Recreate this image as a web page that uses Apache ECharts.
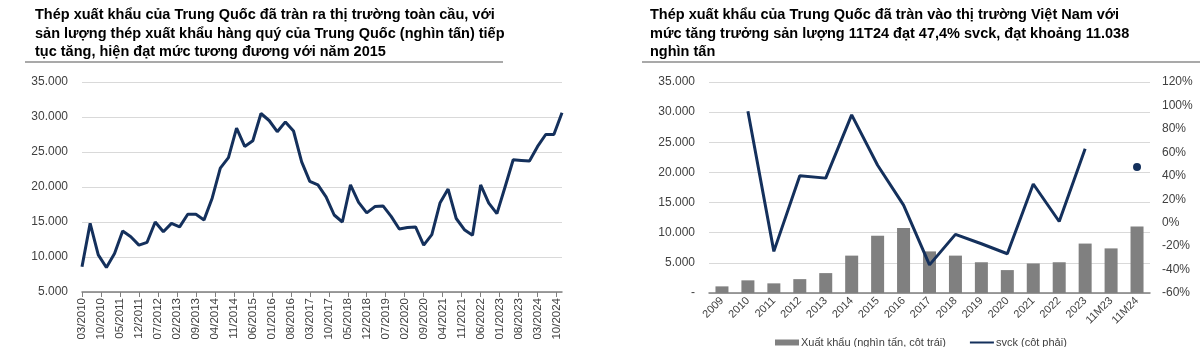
<!DOCTYPE html>
<html>
<head>
<meta charset="utf-8">
<script src="https://cdn.jsdelivr.net/npm/echarts@6/dist/echarts.min.js"></script>
<style>
html,body{margin:0;padding:0;background:#fff;}
#c{width:1200px;height:347px;}
</style>
</head>
<body>
<div id="c"></div>
<script>
// ---------- Left chart: quarterly steel exports of China (thousand tonnes) ----------
var leftFirstMonth = {m: 3, y: 2010};
var leftMonthCount = 178; // 03/2010 .. 12/2024
var quarterlyExports = [
  8600, 14800, 10300, 8500, 10500, 13700, 12900, 11700, 12100, 15000,
  13600, 14800, 14300, 16100, 16100, 15300, 18400, 22700, 24200, 28400,
  25800, 26600, 30500, 29500, 27900, 29300, 28000, 23600, 20800, 20300,
  18600, 16000, 15000, 20300, 17800, 16300, 17200, 17300, 15800, 14000,
  14200, 14300, 11700, 13200, 17700, 19700, 15500, 13900, 13100, 20300,
  17700, 16200, 20000, 23900, 23800, 23700, 25800, 27500, 27500, 30600
];
var leftYTicks = {min: 5000, max: 35000, interval: 5000};

// ---------- Right chart: China steel exports to Vietnam ----------
var rightCategories = ['2009','2010','2011','2012','2013','2014','2015','2016','2017','2018','2019','2020','2021','2022','2023','11M23','11M24'];
var vnExports = [1100, 2100, 1600, 2300, 3300, 6200, 9500, 10800, 6900, 6200, 5100, 3800, 4900, 5100, 8200, 7400, 11038];
var vnYoY = [null, 95, -24.5, 40, 38, 92, 49, 15, -36, -10, -18, -26.5, 33, 1, 63, null, 47.4];
var rightLeftTicks = {min: 0, max: 35000, interval: 5000};
var rightRightTicks = {min: -60, max: 120, interval: 20};

var titleLeft = 'Thép xuất khẩu của Trung Quốc đã tràn ra thị trường toàn cầu, với\nsản lượng thép xuất khẩu hàng quý của Trung Quốc (nghìn tấn) tiếp\ntục tăng, hiện đạt mức tương đương với năm 2015';
var titleRight = 'Thép xuất khẩu của Trung Quốc đã tràn vào thị trường Việt Nam với\nmức tăng trưởng sản lượng 11T24 đạt 47,4% svck, đạt khoảng 11.038\nnghìn tấn';
var legendNames = ['Xuất khẩu (nghìn tấn, cột trái)', 'svck (cột phải)'];

function pad(n){return (n<10?'0':'')+n;}
var monthCats = [];
for (var i=0;i<leftMonthCount;i++){
  var mm = leftFirstMonth.m - 1 + i;
  monthCats.push(pad(mm%12+1)+'/'+(leftFirstMonth.y+Math.floor(mm/12)));
}
var leftData = quarterlyExports.map(function(v, q){ return [monthCats[q*3], v]; });

function thousands(v){
  var s = String(Math.round(v));
  return s.replace(/\B(?=(\d{3})+(?!\d))/g, '.');
}

var FONT = '"Liberation Sans", Arial, sans-serif';
var navy = '#14305c';
var labelColor = '#404040';

var yoyData = vnYoY.map(function(v, i){
  if (i === vnYoY.length-1) return {value: v, symbol: 'circle', symbolSize: 8};
  return v;
});

var chart = echarts.init(document.getElementById('c'), null, {renderer:'canvas'});
chart.setOption({
  animation: false,
  textStyle: {fontFamily: FONT},
  title: [
    {text: titleLeft, left: 35, top: 6, padding: 0, textStyle: {fontFamily: FONT, fontSize: 14.5, fontWeight: 'bold', color: '#000', lineHeight: 18.5}},
    {text: titleRight, left: 650, top: 6, padding: 0, textStyle: {fontFamily: FONT, fontSize: 14.5, fontWeight: 'bold', color: '#000', lineHeight: 18.5}}
  ],
  graphic: [
    {type: 'line', shape: {x1: 25, y1: 62, x2: 503, y2: 62}, style: {stroke: '#8c8c8c', lineWidth: 1.5}},
    {type: 'line', shape: {x1: 642, y1: 62, x2: 1200, y2: 62}, style: {stroke: '#8c8c8c', lineWidth: 1.5}}
  ],
  legend: {
    data: [
      {name: legendNames[0], icon: 'rect'},
      {name: legendNames[1], icon: 'path://M0,2 L24,2 L24,4 L0,4 Z M0,0 L0.01,0 M0,6 L0.01,6'}
    ],
    left: 770, top: 332, itemWidth: 24, itemHeight: 6, itemGap: 24,
    textStyle: {fontFamily: FONT, fontSize: 11, color: labelColor, padding: [0,0,0,-3]}
  },
  grid: [
    {left: 82, right: 638, top: 82, bottom: 55, containLabel: false},
    {left: 709, right: 50, top: 82, bottom: 54, containLabel: false}
  ],
  xAxis: [
    {type: 'category', gridIndex: 0, data: monthCats, boundaryGap: false,
     axisLine: {lineStyle: {color: '#7f7f7f', width: 1.5}},
     axisTick: {interval: 6, length: 5, lineStyle: {color: '#7f7f7f'}},
     axisLabel: {interval: 6, rotate: 90, fontSize: 11.5, color: labelColor, margin: 6, fontFamily: FONT},
     splitLine: {show: false}},
    {type: 'category', gridIndex: 1, data: rightCategories, boundaryGap: true,
     axisLine: {lineStyle: {color: '#7f7f7f', width: 1.5}},
     axisTick: {show: false},
     axisLabel: {interval: 0, rotate: 45, fontSize: 11, color: labelColor, margin: 6, fontFamily: FONT}}
  ],
  yAxis: [
    {type: 'value', gridIndex: 0, min: leftYTicks.min, max: leftYTicks.max, interval: leftYTicks.interval,
     axisLine: {show: false}, axisTick: {show: false},
     axisLabel: {formatter: thousands, fontSize: 12, color: labelColor, margin: 14, fontFamily: FONT},
     splitLine: {lineStyle: {color: '#d9d9d9', width: 1}}},
    {type: 'value', gridIndex: 1, min: rightLeftTicks.min, max: rightLeftTicks.max, interval: rightLeftTicks.interval,
     axisLine: {show: false}, axisTick: {show: false},
     axisLabel: {formatter: function(v){ return v === 0 ? '-' : thousands(v); }, fontSize: 12, color: labelColor, margin: 14, fontFamily: FONT},
     splitLine: {lineStyle: {color: '#d9d9d9', width: 1}}},
    {type: 'value', gridIndex: 1, position: 'right', min: rightRightTicks.min, max: rightRightTicks.max, interval: rightRightTicks.interval,
     axisLine: {show: false}, axisTick: {show: false},
     axisLabel: {formatter: function(v){ return v + '%'; }, fontSize: 12, color: labelColor, margin: 12, fontFamily: FONT},
     splitLine: {show: false}}
  ],
  series: [
    {type: 'line', xAxisIndex: 0, yAxisIndex: 0, data: leftData, showSymbol: false, symbol: 'none',
     lineStyle: {color: navy, width: 3}, itemStyle: {color: navy}},
    {name: legendNames[0], type: 'bar', xAxisIndex: 1, yAxisIndex: 1, data: vnExports, barWidth: 13,
     itemStyle: {color: '#808080'}},
    {name: legendNames[1], type: 'line', xAxisIndex: 1, yAxisIndex: 2, data: yoyData, symbol: 'none', showSymbol: true,
     connectNulls: false, lineStyle: {color: navy, width: 3}, itemStyle: {color: navy}}
  ]
});
</script>
</body>
</html>
